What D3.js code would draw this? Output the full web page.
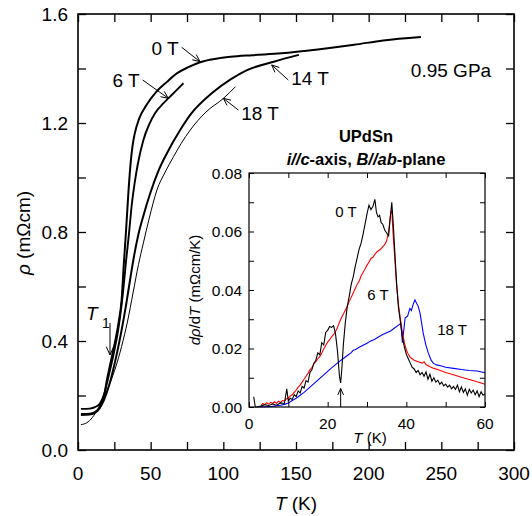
<!DOCTYPE html>
<html><head><meta charset="utf-8">
<script src="https://cdn.jsdelivr.net/npm/d3@7"></script>
<style>body{margin:0;background:#fff}svg{display:block}text{font-family:"Liberation Sans",Arial,sans-serif}</style>
</head><body>
<svg id="c" width="532" height="516"></svg>
<script>
// ---------- main panel data: rho (mOhm cm) vs T (K) ----------
const T_0T   = [2,8,12,15,18,20,22,24,26,28,30,31.5,33,34.5,36,37.5,39,42,47,54,61,68,76,84,95,105,120,140,165,190,210,236];
const rho_0T = [0.128,0.130,0.138,0.155,0.20,0.26,0.31,0.36,0.41,0.47,0.55,0.68,0.80,0.93,1.04,1.115,1.16,1.215,1.265,1.315,1.35,1.382,1.405,1.423,1.436,1.443,1.449,1.456,1.47,1.487,1.503,1.516];
const T_6T   = [2,8,12,15,18,21,23,25,27,29,31,33,35,37,39,41,45,49,53,58,62.3,67,72.6];
const rho_6T = [0.151,0.152,0.158,0.17,0.205,0.27,0.315,0.365,0.42,0.49,0.58,0.69,0.79,0.9,0.98,1.045,1.138,1.195,1.236,1.268,1.291,1.316,1.346];
const T_14T   = [2,8,12,15,18,21,24,27,30,33,36,38.5,41.5,45,49.7,55,61.2,70.3,78,92,105,116.3,134.7,152];
const rho_14T = [0.132,0.133,0.14,0.155,0.185,0.23,0.29,0.36,0.44,0.53,0.63,0.71,0.79,0.86,0.942,1.02,1.089,1.174,1.235,1.309,1.36,1.394,1.425,1.45];
const T_18T   = [2,6,10,14,18,22,26,30,34,38,41.6,45,49,54.3,60,65.7,71,77.2,88,100.2,108.3];
const rho_18T = [0.093,0.10,0.12,0.155,0.195,0.245,0.305,0.38,0.47,0.58,0.68,0.76,0.85,0.954,1.02,1.076,1.125,1.174,1.24,1.291,1.333];

const mainXTicks = [0,50,100,150,200,250,300];
const mainYTicks = [0.0,0.4,0.8,1.2,1.6];

// ---------- inset data: d rho/dT (mOhm cm/K) vs T (K) ----------
const inT_0T = [1.2,1.6,2,3,4,5,6,7,8,9,9.6,10,10.5,11,11.5,12,12.5,13,13.5,14,14.5,15,15.5,16,16.5,17,17.5,18,18.5,19,19.5,20,20.5,21,21.5,22,22.5,23,23.3,23.6,24,24.5,25,25.5,26,26.5,27,27.5,28,28.5,29,29.5,30,30.5,31,31.5,32,32.4,32.8,33.2,33.6,34,34.5,35,35.5,36,36.3,36.7,37.2,37.6,38,38.5,39,39.5,40,40.5,41,41.5,42,42.5,43,43.5,44,44.5,45,45.5,46,46.5,47,47.5,48,48.5,49,49.5,50,50.5,51,51.5,52,52.5,53,53.5,54,54.5,55,55.5,56,56.5,57,57.5,58,58.5,59,59.5,60];
const inV_0T = [0.0035,0.0,0.0,0.0003,0.0008,0.0005,0.0010,0.0006,0.0014,0.0012,0.0062,0.0020,0.0030,0.0026,0.0042,0.0036,0.0055,0.0048,0.0070,0.0065,0.0090,0.0085,0.0118,0.0128,0.0150,0.0160,0.0185,0.0178,0.0220,0.0212,0.0255,0.0262,0.0275,0.0272,0.0278,0.0250,0.0190,0.0105,0.0082,0.0130,0.0215,0.0290,0.0345,0.0380,0.0420,0.0445,0.0480,0.0510,0.0540,0.0560,0.0590,0.0625,0.0660,0.0690,0.0675,0.0685,0.0710,0.0665,0.0650,0.0655,0.0630,0.0625,0.0605,0.0595,0.0585,0.0660,0.0700,0.0620,0.0500,0.0410,0.0340,0.0290,0.0240,0.0205,0.0180,0.0165,0.0150,0.0135,0.0130,0.0118,0.0125,0.0110,0.0118,0.0105,0.0120,0.0095,0.0112,0.0088,0.0100,0.0085,0.0092,0.0078,0.0085,0.0072,0.0078,0.0068,0.0075,0.0062,0.0070,0.0060,0.0075,0.0052,0.0068,0.0050,0.0062,0.0040,0.0060,0.0048,0.0058,0.0042,0.0055,0.0035,0.0052,0.0040,0.0045];
const inT_6T = [3,3.5,4,4.5,5,5.5,6,6.5,7,7.5,8,8.5,9,9.5,10,10.5,11,11.5,12,12.5,13,13.5,14,14.5,15,15.5,16,16.5,17,17.5,18,18.5,19,19.5,20,20.5,21,21.5,22,22.5,23,23.5,24,24.5,25,25.5,26,26.5,27,27.5,28,28.5,29,29.5,30,30.5,31,31.5,32,32.5,33,33.5,34,34.5,35,35.5,36,36.3,36.6,37,37.5,38,38.5,39,39.5,40,40.5,41,41.5,42,43,44,44.5,45,46,47,48,50,52,54,56,58,60];
const inV_6T = [0.0005,0.0012,0.0008,0.0015,0.0010,0.0016,0.0012,0.0018,0.0013,0.0020,0.0015,0.0022,0.0020,0.0028,0.0030,0.0038,0.0042,0.0050,0.0058,0.0068,0.0075,0.0085,0.0095,0.0105,0.0115,0.0128,0.0135,0.0148,0.0155,0.0165,0.0172,0.0185,0.0198,0.0210,0.0222,0.0230,0.0240,0.0248,0.0258,0.0272,0.0290,0.0305,0.0318,0.0332,0.0345,0.0362,0.0375,0.0390,0.0405,0.0420,0.0430,0.0448,0.0460,0.0472,0.0485,0.0495,0.0508,0.0512,0.0522,0.0530,0.0535,0.0540,0.0548,0.0555,0.0568,0.0600,0.0660,0.0673,0.0600,0.0520,0.0420,0.0350,0.0300,0.0255,0.0220,0.0195,0.0180,0.0170,0.0165,0.0160,0.0155,0.0150,0.0155,0.0145,0.0138,0.0132,0.0128,0.0118,0.0110,0.0102,0.0094,0.0086,0.0078];
const inT_18T = [2.5,4,6,8,9,10,11,12,13,14,15,16,17,18,19,20,21,22,23,24,25,26,26.5,27,28,29,30,31,32,33,34,35,36,37,38,38.6,39.0,39.7,40.3,40.9,41.3,41.7,42.2,42.6,43.0,43.5,44.3,45.0,45.6,46.3,46.9,47.7,49,50,52,54,56,58,60];
const inV_18T = [0.0,0.0001,0.0002,0.0006,0.0009,0.0014,0.0022,0.0030,0.0040,0.0050,0.0062,0.0074,0.0086,0.0098,0.0110,0.0122,0.0134,0.0145,0.0156,0.0166,0.0176,0.0186,0.0194,0.0196,0.0204,0.0211,0.0218,0.0226,0.0232,0.0240,0.0248,0.0254,0.0260,0.0270,0.0280,0.0286,0.0220,0.0305,0.0310,0.0337,0.0330,0.0350,0.0366,0.0355,0.0345,0.0320,0.0252,0.0210,0.0184,0.0160,0.0149,0.0144,0.0140,0.0136,0.0132,0.0128,0.0125,0.0123,0.0117];

const inXTicks = [0,20,40,60];
const inYTicks = [0.00,0.02,0.04,0.06,0.08];

// ---------- drawing ----------
const svg = d3.select("#c");

const x = d3.scaleLinear().domain([0,300]).range([78,514]);
const y = d3.scaleLinear().domain([0,1.6]).range([450,14]);

function arrowHead(g, x1, y1, x2, y2, len, sw) {
  const a = Math.atan2(y2-y1, x2-x1), s = 0.42;
  const p = [[x2 - len*Math.cos(a-s), y2 - len*Math.sin(a-s)],[x2,y2],[x2 - len*Math.cos(a+s), y2 - len*Math.sin(a+s)]];
  g.append("line").attr("x1",x1).attr("y1",y1).attr("x2",x2).attr("y2",y2).attr("stroke","#000").attr("stroke-width",sw);
  g.append("path").attr("d",d3.line()(p)).attr("fill","none").attr("stroke","#000").attr("stroke-width",sw);
}

// main axes
const gm = svg.append("g");
gm.append("g").attr("transform","translate(0,450)")
  .call(d3.axisBottom(x).tickValues(d3.range(0,301,25)).tickSize(-8).tickFormat(""));
gm.append("g").attr("transform","translate(0,14)")
  .call(d3.axisTop(x).tickValues(d3.range(0,301,25)).tickSize(-8).tickFormat(""));
gm.append("g").attr("transform","translate(78,0)")
  .call(d3.axisLeft(y).tickValues(d3.range(0,1.61,0.2)).tickSize(-8).tickFormat(""));
gm.append("g").attr("transform","translate(514,0)")
  .call(d3.axisRight(y).tickValues(d3.range(0,1.61,0.2)).tickSize(-8).tickFormat(""));
gm.selectAll(".domain").remove();
gm.selectAll(".tick line").attr("stroke","#000").attr("stroke-width",1.3);
gm.append("rect").attr("x",78).attr("y",14).attr("width",436).attr("height",436)
  .attr("fill","none").attr("stroke","#000").attr("stroke-width",1.6);

gm.selectAll(".xl").data(mainXTicks).join("text").attr("x",d=>x(d)).attr("y",480)
  .attr("text-anchor","middle").attr("font-size",19).text(d=>d);
gm.selectAll(".yl").data(mainYTicks).join("text").attr("x",68).attr("y",d=>y(d)+7)
  .attr("text-anchor","end").attr("font-size",19).text(d=>d.toFixed(1));

const xt = gm.append("text").attr("x",296).attr("y",510).attr("text-anchor","middle").attr("font-size",19);
xt.append("tspan").attr("font-style","italic").text("T");
xt.append("tspan").text(" (K)");
const yt = gm.append("text").attr("transform","translate(30,233) rotate(-90)").attr("text-anchor","middle").attr("font-size",19);
yt.append("tspan").attr("font-style","italic").text("ρ");
yt.append("tspan").text(" (mΩcm)");

const lineMain = d3.line().x(d=>x(d[0])).y(d=>y(d[1])).curve(d3.curveMonotoneX);
const mainSeries = [
  {T:T_0T, r:rho_0T, w:2},
  {T:T_6T, r:rho_6T, w:1.9},
  {T:T_14T, r:rho_14T, w:2},
  {T:T_18T, r:rho_18T, w:1}
];
mainSeries.forEach(s => {
  gm.append("path").attr("d", lineMain(s.T.map((t,i)=>[t,s.r[i]])))
    .attr("fill","none").attr("stroke","#000").attr("stroke-width",s.w);
});

// main annotations
gm.append("text").attr("x",165).attr("y",55).attr("text-anchor","middle").attr("font-size",19).text("0 T");
arrowHead(gm,181.7,47.3,200,61.7,8,1);
gm.append("text").attr("x",126).attr("y",87).attr("text-anchor","middle").attr("font-size",19).text("6 T");
arrowHead(gm,142.7,80,168.3,98.3,8,1);
gm.append("text").attr("x",310).attr("y",85).attr("text-anchor","middle").attr("font-size",19).text("14 T");
arrowHead(gm,288.3,80,271.7,65,8,1);
gm.append("text").attr("x",260).attr("y",120).attr("text-anchor","middle").attr("font-size",19).text("18 T");
arrowHead(gm,238.3,110,223.3,98.3,8,1);
gm.append("text").attr("x",451).attr("y",77).attr("text-anchor","middle").attr("font-size",19).text("0.95 GPa");
gm.append("text").attr("x",86).attr("y",320).attr("font-size",19).attr("font-style","italic").text("T");
gm.append("text").attr("x",102).attr("y",328).attr("font-size",14).text("1");
arrowHead(gm,110,323,110,355,9,1);

// inset
const xi = d3.scaleLinear().domain([0,60]).range([249,485]);
const yi = d3.scaleLinear().domain([0,0.08]).range([407,173]);
const gi = svg.append("g");
gi.append("rect").attr("x",249).attr("y",173).attr("width",236).attr("height",234).attr("fill","#fff");
gi.append("text").attr("x",366).attr("y",142).attr("text-anchor","middle").attr("font-size",16.5).attr("font-weight","bold").text("UPdSn");
const st = gi.append("text").attr("x",366).attr("y",165).attr("text-anchor","middle").attr("font-size",16.5).attr("font-weight","bold");
st.append("tspan").attr("font-style","italic").text("i//c");
st.append("tspan").text("-axis, ");
st.append("tspan").attr("font-style","italic").text("B//ab");
st.append("tspan").text("-plane");

const lineIn = d3.line().x(d=>xi(d[0])).y(d=>yi(d[1]));
const inSeries = [
  {T:inT_18T, v:inV_18T, c:"#0000ff"},
  {T:inT_6T, v:inV_6T, c:"#ff0000"},
  {T:inT_0T, v:inV_0T, c:"#000000"}
];
inSeries.forEach(s => {
  gi.append("path").attr("d", lineIn(s.T.map((t,i)=>[t,s.v[i]])))
    .attr("fill","none").attr("stroke",s.c).attr("stroke-width",1.1);
});

gi.append("g").attr("transform","translate(0,407)")
  .call(d3.axisBottom(xi).tickValues(d3.range(0,61,10)).tickSize(-5).tickFormat(""));
gi.append("g").attr("transform","translate(0,173)")
  .call(d3.axisTop(xi).tickValues(d3.range(0,61,10)).tickSize(-5).tickFormat(""));
gi.append("g").attr("transform","translate(249,0)")
  .call(d3.axisLeft(yi).tickValues(d3.range(0,0.0801,0.01)).tickSize(-5).tickFormat(""));
gi.append("g").attr("transform","translate(485,0)")
  .call(d3.axisRight(yi).tickValues(d3.range(0,0.0801,0.01)).tickSize(-5).tickFormat(""));
gi.selectAll(".domain").remove();
gi.selectAll(".tick line").attr("stroke","#000").attr("stroke-width",1);
gi.append("rect").attr("x",249).attr("y",173).attr("width",236).attr("height",234)
  .attr("fill","none").attr("stroke","#000").attr("stroke-width",1.2);

gi.selectAll(".ixl").data(inXTicks).join("text").attr("x",d=>xi(d)).attr("y",429)
  .attr("text-anchor","middle").attr("font-size",15.5).text(d=>d);
gi.selectAll(".iyl").data(inYTicks).join("text").attr("x",242).attr("y",d=>yi(d)+5.5)
  .attr("text-anchor","end").attr("font-size",15.5).text(d=>d.toFixed(2));

const ixt = gi.append("text").attr("x",370).attr("y",443).attr("text-anchor","middle").attr("font-size",15);
ixt.append("tspan").attr("font-style","italic").text("T");
ixt.append("tspan").text(" (K)");
const iyt = gi.append("text").attr("transform","translate(200,290) rotate(-90)").attr("text-anchor","middle").attr("font-size",15);
iyt.append("tspan").attr("font-style","italic").text("dρ");
iyt.append("tspan").text("/d");
iyt.append("tspan").attr("font-style","italic").text("T");
iyt.append("tspan").text(" (mΩcm/K)");

gi.append("text").attr("x",346).attr("y",217).attr("text-anchor","middle").attr("font-size",15).text("0 T");
gi.append("text").attr("x",378).attr("y",300).attr("text-anchor","middle").attr("font-size",15).text("6 T");
gi.append("text").attr("x",452).attr("y",335).attr("text-anchor","middle").attr("font-size",15).text("18 T");
arrowHead(gi, xi(23.3), 407, xi(23.3), 388.5, 7, 1);
</script>
</body></html>
